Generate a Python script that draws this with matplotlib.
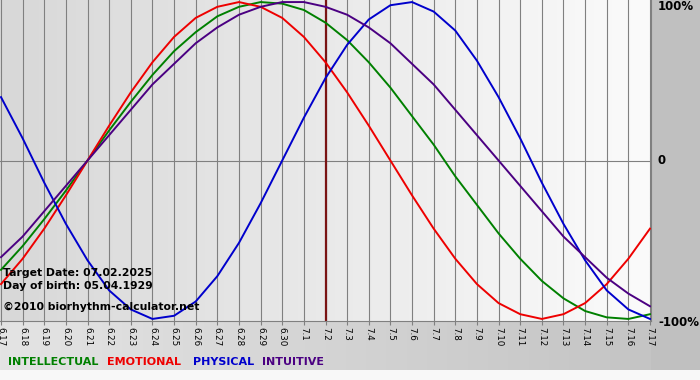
import numpy as np
import matplotlib
matplotlib.use("Agg")
import matplotlib.pyplot as plt

# days shown on the x axis (month.day)
day_labels = ["6.17", "6.18", "6.19", "6.20", "6.21", "6.22", "6.23", "6.24", "6.25", "6.26",
              "6.27", "6.28", "6.29", "6.30", "7.1", "7.2", "7.3", "7.4", "7.5", "7.6",
              "7.7", "7.8", "7.9", "7.10", "7.11", "7.12", "7.13", "7.14", "7.15", "7.16", "7.17"]
target_label = "7.2"

# cycle values per day, -1 .. 1
intellectual = [-0.69, -0.54, -0.37, -0.19, 0.00, 0.19, 0.37, 0.54, 0.69, 0.81, 0.91, 0.97, 1.00, 0.99,
                0.95, 0.87, 0.76, 0.62, 0.46, 0.28, 0.10, -0.10, -0.28, -0.46, -0.62, -0.76, -0.87,
                -0.95, -0.99, -1.00, -0.97]
emotional = [-0.78, -0.62, -0.43, -0.22, 0.00, 0.22, 0.43, 0.62, 0.78, 0.90, 0.97, 1.00, 0.97, 0.90,
             0.78, 0.62, 0.43, 0.22, 0.00, -0.22, -0.43, -0.62, -0.78, -0.90, -0.97, -1.00, -0.97,
             -0.90, -0.78, -0.62, -0.43]
physical = [0.40, 0.14, -0.14, -0.40, -0.63, -0.82, -0.94, -1.00, -0.98, -0.89, -0.73, -0.52, -0.27,
            0.00, 0.27, 0.52, 0.73, 0.89, 0.98, 1.00, 0.94, 0.82, 0.63, 0.40, 0.14, -0.14, -0.40,
            -0.63, -0.82, -0.94, -1.00]
intuitive = [-0.61, -0.48, -0.32, -0.16, 0.00, 0.16, 0.32, 0.48, 0.61, 0.74, 0.84, 0.92, 0.97, 1.00,
             1.00, 0.97, 0.92, 0.84, 0.74, 0.61, 0.48, 0.32, 0.16, 0.00, -0.16, -0.32, -0.48, -0.61,
             -0.74, -0.84, -0.92]

series_names = ["INTELLECTUAL", "EMOTIONAL", "PHYSICAL", "INTUITIVE"]
series_colors = ["#008000", "#ee0000", "#0000cc", "#4b0082"]
y_labels = ["100%", "0", "-100%"]
info_lines = ["Target Date: 07.02.2025", "Day of birth: 05.04.1929", "\u00a92010 biorhythm-calculator.net"]

W, H = 700, 380
fig = plt.figure(figsize=(W / 100, H / 100), dpi=100)
fig.patch.set_facecolor("#f8f8f8")

# background panel: grey on the right, grey gradient under the plot
bg = np.full((H, W, 3), 248 / 255.0)
bg[:370, 651:] = 192 / 255.0
grad = np.linspace(228, 196, 651) / 255.0
bg[321:370, :651] = grad[None, :, None]
bax = fig.add_axes([0, 0, 1, 1])
bax.imshow(bg, aspect="auto", extent=(0, W, H, 0), interpolation="nearest")
bax.set_axis_off()

ax = fig.add_axes([0, 1 - 321 / H, 651 / W, 321 / H])
x = np.arange(len(day_labels))
ax.set_xlim(-0.046, 30.046)
ax.set_ylim(-1.013, 1.013)

# plot background, light on the right
plot_grad = np.linspace(216, 251, 200)[None, :] / 255.0
ax.imshow(np.dstack([plot_grad] * 3), aspect="auto", extent=(-0.046, 30.046, -1.013, 1.013),
          zorder=0, interpolation="bilinear")

for xi in x:
    ax.axvline(xi, color="#808080", lw=0.8, zorder=1)
ax.axhline(0, color="#808080", lw=0.8, zorder=1)

ax.axvline(day_labels.index(target_label), color="#7a1414", lw=1.6, zorder=2)

for vals, c in zip([intellectual, emotional, physical, intuitive], series_colors):
    ax.plot(x, vals, color=c, lw=1.4, zorder=3, solid_joinstyle="round")

ax.set_xticks(x)
ax.set_xticklabels(day_labels, rotation=270, fontsize=6.3, va="top", ha="center")
ax.tick_params(axis="x", length=3, color="#808080", pad=1)
ax.set_yticks([])
for s in ax.spines.values():
    s.set_color("#808080")
    s.set_linewidth(0.8)
ax.spines["top"].set_visible(False)
ax.spines["left"].set_visible(False)

for lbl, yp in zip(y_labels, [7, 161, 322]):
    fig.text(658 / W, 1 - yp / H, lbl, fontsize=8.5, fontweight="bold", va="center", ha="left")

for line, yp in zip(info_lines, [273, 286, 307]):
    fig.text(3 / W, 1 - yp / H, line, fontsize=7.8, fontweight="bold", va="center", ha="left")

for name, c, xp in zip(series_names, series_colors, [8, 107, 193, 262]):
    fig.text(xp / W, 1 - 362 / H, name, fontsize=8, fontweight="bold", color=c, va="center", ha="left")

fig.savefig("out.png", dpi=100)
